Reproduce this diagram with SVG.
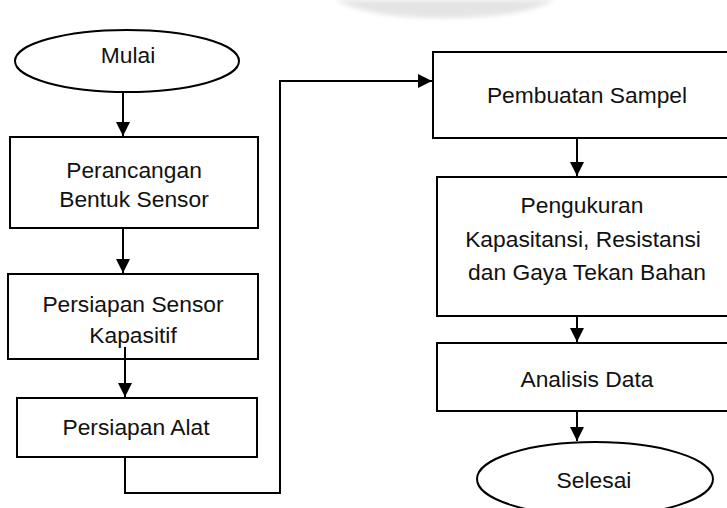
<svg xmlns="http://www.w3.org/2000/svg" width="727" height="508" viewBox="0 0 727 508">
<style>
.box{fill:#fff;stroke:#000;stroke-width:2}
.t{font-family:"Liberation Sans",Arial,sans-serif;font-size:22.8px;fill:#111;text-anchor:middle}
.c{fill:none;stroke:#000;stroke-width:2}
</style>
<defs>
<marker id="ah" markerUnits="userSpaceOnUse" markerWidth="16" markerHeight="16" refX="14" refY="7" orient="auto">
<path d="M0,0 L14,7 L0,14 Z" fill="#000"/>
</marker>
<filter id="blur" x="-20%" y="-100%" width="140%" height="300%"><feGaussianBlur stdDeviation="2.5"/></filter>
</defs>
<rect width="727" height="508" fill="#fff"/>
<path d="M335,0 H555 Q520,18 445,18 Q370,18 335,0 Z" fill="#e4e4e5" filter="url(#blur)"/>
<g id="connectors">
<path class="c" d="M123,92 V136" marker-end="url(#ah)"/>
<path class="c" d="M123,228 V273" marker-end="url(#ah)"/>
<path class="c" d="M125,347 V397" marker-end="url(#ah)"/>
<path class="c" d="M125,457 V493 H280 V81 H432" marker-end="url(#ah)"/>
<path class="c" d="M577,138 V176" marker-end="url(#ah)"/>
<path class="c" d="M577,316 V342" marker-end="url(#ah)"/>
<path class="c" d="M577,411 V441" marker-end="url(#ah)"/>
</g>
<g id="mulai">
<ellipse class="box" cx="127" cy="61" rx="112" ry="31"/>
<text class="t" x="128" y="63">Mulai</text>
</g>
<g id="perancangan">
<rect class="box" x="10" y="137" width="248" height="91"/>
<text class="t" x="134" y="178">Perancangan</text>
<text class="t" x="134" y="207">Bentuk Sensor</text>
</g>
<g id="persiapan-sensor">
<rect class="box" x="8" y="274" width="250" height="85" fill-opacity="0"/>
<text class="t" x="133" y="312">Persiapan Sensor</text>
<text class="t" x="133" y="343">Kapasitif</text>
</g>
<g id="persiapan-alat">
<rect class="box" x="17" y="398" width="240" height="59"/>
<text class="t" x="136" y="435">Persiapan Alat</text>
</g>
<g id="pembuatan-sampel">
<rect class="box" x="433" y="52" width="300" height="86"/>
<text class="t" x="587" y="103">Pembuatan Sampel</text>
</g>
<g id="pengukuran">
<rect class="box" x="437" y="177" width="300" height="139"/>
<text class="t" x="582" y="213">Pengukuran</text>
<text class="t" x="583" y="247">Kapasitansi, Resistansi</text>
<text class="t" x="587" y="280">dan Gaya Tekan Bahan</text>
</g>
<g id="analisis-data">
<rect class="box" x="437" y="343" width="300" height="68"/>
<text class="t" x="587" y="387">Analisis Data</text>
</g>
<g id="selesai">
<ellipse class="box" cx="595" cy="479" rx="118" ry="37"/>
<text class="t" x="594" y="488">Selesai</text>
</g>
</svg>
